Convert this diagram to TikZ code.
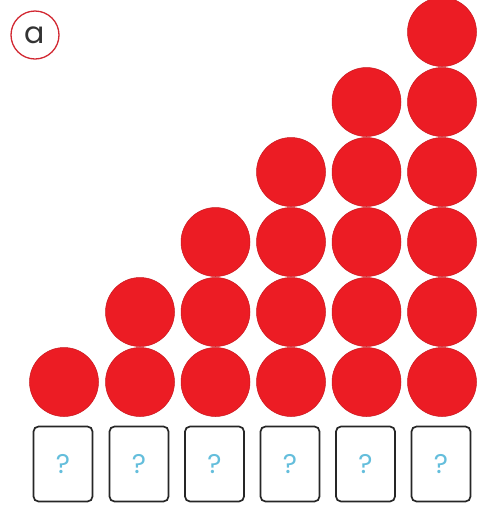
\documentclass[tikz,border=0pt]{standalone}
\usepackage{fontspec}
\setmainfont{Poppins}
\definecolor{ballred}{RGB}{236,28,36}
\definecolor{qblue}{RGB}{100,190,220}
\definecolor{ringred}{RGB}{210,40,50}
\begin{document}
\begin{tikzpicture}[x=1pt,y=-1pt,
  ball/.style={circle,fill=ballred,draw=ballred!85!black,line width=0.5pt,minimum size=69pt,inner sep=0pt},
  qbox/.style={rectangle,rounded corners=5pt,draw=black!85,line width=1.7pt,minimum width=59pt,minimum height=75pt,inner sep=0pt,text=qblue,font=\fontsize{27}{27}\selectfont},
  tag/.style={circle,draw=ringred,line width=1.3pt,minimum size=48pt,inner sep=0pt,font=\fontsize{30}{30}\selectfont,text=black!80}]
\useasboundingbox (0,0) rectangle (477,507);
\fill[white] (0,0) rectangle (477,507);
\node[tag] (lab) at (35,35) {a};
\foreach \c/\x in {1/64,2/140,3/215.5,4/291,5/366.5,6/442}{
  \foreach \r in {1,...,\c}{
    \node[ball] (b\c-\r) at (\x,{382-70*(\r-1)}) {};
  }
  \node[qbox] (q\c) at (\x-1,464) {?};
}
\end{tikzpicture}
\end{document}
